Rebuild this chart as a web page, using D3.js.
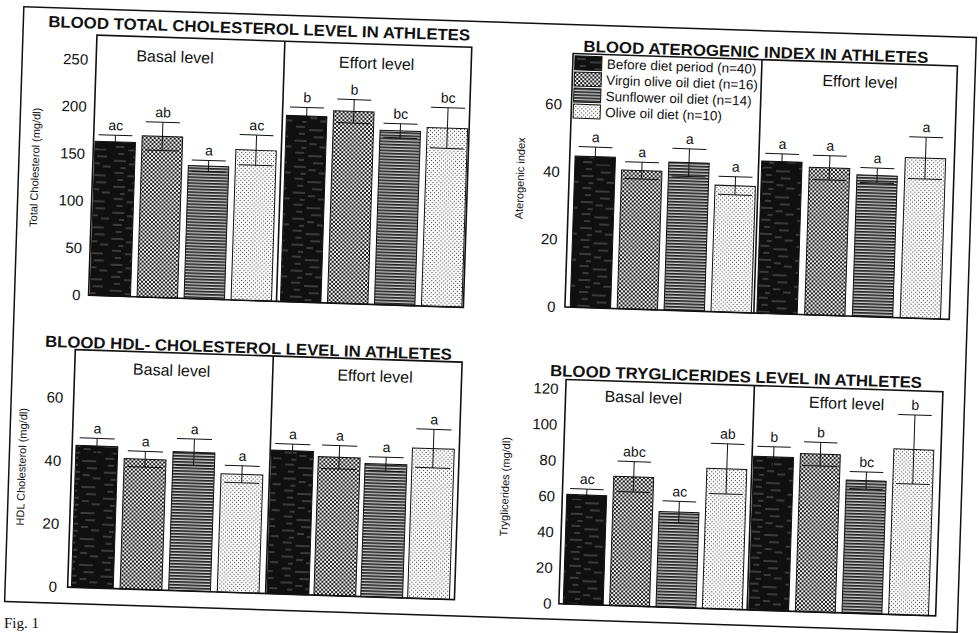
<!DOCTYPE html>
<html>
<head>
<meta charset="utf-8">
<script src="https://cdn.jsdelivr.net/npm/d3@7/dist/d3.min.js"></script>
<style>
  body { margin: 0; background: #fff; }
  svg { display: block; }
</style>
</head>
<body>
<svg id="fig" width="979" height="633"></svg>
<script>
// ---- data ----
const dietGroups = ["Before diet period (n=40)", "Virgin olive oil diet (n=16)", "Sunflower oil diet (n=14)", "Olive oil diet (n=10)"];
const levels = ["Basal level", "Effort level"];

// total cholesterol (mg/dl): 4 basal bars then 4 effort bars
const cholMean = [163.5, 171, 141, 159.5, 197.5, 204, 185, 189.5];
const cholErr = [7, 15, 6, 16, 9, 12.5, 7.5, 21.5];
const cholLetters = ["ac", "ab", "a", "ac", "b", "b", "bc", "bc"];
const cholTicks = [0, 50, 100, 150, 200, 250];

// aterogenic index
const ateroMean = [44.8, 41.1, 43.9, 37.5, 45.1, 43.7, 41.9, 47.5];
const ateroErr = [2.8, 2.5, 4.1, 2.7, 2.3, 3.6, 2.2, 6.2];
const ateroLetters = ["a", "a", "a", "a", "a", "a", "a", "a"];
const ateroTicks = [0, 20, 40, 60];

// HDL cholesterol (mg/dl)
const hdlMean = [45.0, 41.3, 44.0, 37.5, 45.5, 43.9, 42.2, 47.6];
const hdlErr = [2.4, 2.5, 4.2, 2.7, 2.1, 3.7, 2.2, 6.1];
const hdlLetters = ["a", "a", "a", "a", "a", "a", "a", "a"];
const hdlTicks = [0, 20, 40, 60];

// triglycerides (mg/dl)
const trigMean = [61.2, 72.2, 53.3, 78.3, 85.9, 88.2, 74.3, 92.5];
const trigErr = [3.3, 8.5, 6, 14, 5.6, 6.6, 4.8, 19.3];
const trigLetters = ["ac", "abc", "ac", "ab", "b", "b", "bc", "b"];
const trigTicks = [0, 20, 40, 60, 80, 100, 120];

// ---- drawing ----
const FONT = "'Liberation Sans', Arial, Helvetica, sans-serif";
const svg = d3.select("#fig");
const defs = svg.append("defs");

// fill patterns, one per diet group
function pattern(id, w, h, build) {
  const p = defs.append("pattern").attr("id", id).attr("patternUnits", "userSpaceOnUse")
    .attr("width", w).attr("height", h);
  build(p);
}
pattern("pat0", 36, 26, p => {
  p.append("rect").attr("width", 36).attr("height", 26).attr("fill", "#101010");
  p.append("path").attr("d", "M2,3h9M15,6h14M5,10h6M20,13h10M1,17h12M16,20h7M26,23h8M8,24h5")
    .attr("stroke", "#8c8c8c").attr("stroke-width", 0.7);
});
pattern("pat1", 4, 4, p => {
  p.append("rect").attr("width", 4).attr("height", 4).attr("fill", "#f4f4f4");
  p.append("rect").attr("width", 2).attr("height", 2).attr("fill", "#1e1e1e");
  p.append("rect").attr("x", 2).attr("y", 2).attr("width", 2).attr("height", 2).attr("fill", "#1e1e1e");
});
pattern("pat2", 4, 3, p => {
  p.append("rect").attr("width", 4).attr("height", 3).attr("fill", "#cfcfcf");
  p.append("rect").attr("width", 4).attr("height", 1.7).attr("fill", "#222");
});
pattern("pat3", 4, 4, p => {
  p.append("rect").attr("width", 4).attr("height", 4).attr("fill", "#fbfbfb");
  p.append("rect").attr("width", 1).attr("height", 1).attr("fill", "#3a3a3a");
  p.append("rect").attr("x", 2).attr("y", 2).attr("width", 1).attr("height", 1).attr("fill", "#3a3a3a");
});

// the whole sheet sits slightly tilted
const root = svg.append("g").attr("transform", "rotate(1.85,490,319)");

root.append("rect").attr("x", 14).attr("y", 22).attr("width", 953).attr("height", 595)
  .attr("fill", "none").attr("stroke", "#111").attr("stroke-width", 1.5);

function drawPanel(cfg, means, errs, letters, ticks) {
  const g = root.append("g");
  const y = d3.scaleLinear().domain([0, ticks[ticks.length - 1]]).range([cfg.y0, cfg.yMax]);
  const xs = [cfg.s1, cfg.s2].map(r => d3.scaleBand().domain(d3.range(4)).range(r).paddingInner(0.14));
  const bw = xs[0].bandwidth();
  const rows = means.map((m, i) => ({ m, e: errs[i], lab: letters[i], grp: Math.floor(i / 4), k: i % 4 }));
  const cx = d => xs[d.grp](d.k) + bw / 2;

  g.selectAll("rect.bar").data(rows).join("rect").attr("class", "bar")
    .attr("x", d => xs[d.grp](d.k)).attr("y", d => y(d.m))
    .attr("width", bw).attr("height", d => y(0) - y(d.m))
    .attr("fill", d => `url(#pat${d.k})`).attr("stroke", "#111").attr("stroke-width", 1);

  const eb = g.selectAll("g.err").data(rows).join("g").attr("class", "err")
    .attr("stroke", "#111").attr("stroke-width", 1);
  eb.append("line").attr("x1", cx).attr("x2", cx).attr("y1", d => y(d.m + d.e)).attr("y2", d => y(d.m - d.e));
  eb.append("line").attr("x1", d => cx(d) - bw * 0.42).attr("x2", d => cx(d) + bw * 0.42)
    .attr("y1", d => y(d.m + d.e)).attr("y2", d => y(d.m + d.e));
  eb.append("line").attr("x1", d => cx(d) - bw * 0.42).attr("x2", d => cx(d) + bw * 0.42)
    .attr("y1", d => y(d.m - d.e)).attr("y2", d => y(d.m - d.e));

  g.selectAll("text.sig").data(rows).join("text").attr("class", "sig")
    .attr("x", cx).attr("y", d => y(d.m + d.e) - 5)
    .attr("text-anchor", "middle").attr("font-family", FONT).attr("font-size", 14).attr("fill", "#111")
    .text(d => d.lab);

  // plot frame and basal/effort divider
  g.append("rect").attr("x", cfg.left).attr("y", cfg.top)
    .attr("width", cfg.right - cfg.left).attr("height", y(0) - cfg.top)
    .attr("fill", "none").attr("stroke", "#111").attr("stroke-width", 1.6);
  g.append("line").attr("x1", cfg.div).attr("x2", cfg.div).attr("y1", cfg.top).attr("y2", y(0))
    .attr("stroke", "#111").attr("stroke-width", 1.6);

  // y axis labels
  g.append("g").attr("transform", `translate(${cfg.left},0)`)
    .call(d3.axisLeft(y).tickValues(ticks).tickSize(0).tickPadding(cfg.left - cfg.tickX))
    .call(a => a.select(".domain").remove())
    .selectAll("text").attr("font-family", FONT).attr("font-size", 15).attr("fill", "#111");

  g.append("text").attr("transform", `translate(${cfg.yTitle[0]},${cfg.yTitle[1]}) rotate(-90)`)
    .attr("text-anchor", "middle").attr("dy", "0.35em")
    .attr("font-family", FONT).attr("font-size", 11).attr("fill", "#111").text(cfg.yLabel);

  g.append("text").attr("x", cfg.title[0]).attr("y", cfg.title[1])
    .attr("textLength", cfg.title[2]).attr("lengthAdjust", "spacingAndGlyphs")
    .attr("font-family", FONT).attr("font-weight", "bold").attr("font-size", 16).attr("fill", "#111")
    .text(cfg.titleText);

  if (cfg.basal) {
    g.append("text").attr("x", cfg.basal[0]).attr("y", cfg.basal[1]).attr("text-anchor", "middle")
      .attr("font-family", FONT).attr("font-size", 16).attr("fill", "#111").text(levels[0]);
  }
  g.append("text").attr("x", cfg.effort[0]).attr("y", cfg.effort[1]).attr("text-anchor", "middle")
    .attr("font-family", FONT).attr("font-size", 16).attr("fill", "#111").text(levels[1]);
  return g;
}

drawPanel({
  left: 88, right: 463, top: 48, y0: 308.3, yMax: 72.5, div: 276,
  s1: [89.5, 271], s2: [280, 461.5], tickX: 80,
  title: [39, 41.5, 422], titleText: "BLOOD TOTAL CHOLESTEROL LEVEL IN ATHLETES",
  yTitle: [30.3, 182], yLabel: "Total Cholesterol (mg/dl)",
  basal: [166.7, 72.7], effort: [368.5, 72.8]
}, cholMean, cholErr, cholLetters, cholTicks);

const atero = drawPanel({
  left: 564.5, right: 949, top: 51, y0: 304.5, yMax: 102, div: 753.5,
  s1: [569.8, 751], s2: [756.5, 941], tickX: 555,
  title: [574.7, 49, 345], titleText: "BLOOD ATEROGENIC INDEX  IN ATHLETES",
  yTitle: [515.5, 177.4], yLabel: "Aterogenic index",
  basal: null, effort: [852.1, 75.5]
}, ateroMean, ateroErr, ateroLetters, ateroTicks);

// legend in the basal half of the aterogenic panel
const leg = atero.append("g").selectAll("g").data(dietGroups).join("g")
  .attr("transform", (d, i) => `translate(566.5,${53.2 + i * 16.1})`);
leg.append("rect").attr("width", 27).attr("height", 14).attr("fill", (d, i) => `url(#pat${i})`)
  .attr("stroke", "#111").attr("stroke-width", 1);
leg.append("text").attr("x", 32).attr("y", 7).attr("dy", "0.36em")
  .attr("font-family", FONT).attr("font-size", 13.5).attr("fill", "#111").text(d => d);

drawPanel({
  left: 76.5, right: 463.5, top: 363, y0: 600.6, yMax: 411.3, div: 274.6,
  s1: [80.3, 268], s2: [276, 457], tickX: 66,
  title: [46.1, 361.1, 407], titleText: "BLOOD HDL- CHOLESTEROL LEVEL IN ATHLETES",
  yTitle: [26.7, 481.8], yLabel: "HDL Cholesterol (mg/dl)",
  basal: [173.5, 386], effort: [376.9, 385.4]
}, hdlMean, hdlErr, hdlLetters, hdlTicks);

drawPanel({
  left: 568, right: 945, top: 377, y0: 601.4, yMax: 386.5, div: 756.4,
  s1: [572.4, 751.5], s2: [758, 938], tickX: 560.7,
  title: [551.8, 374.1, 372], titleText: "BLOOD TRYGLICERIDES LEVEL IN ATHLETES",
  yTitle: [510.4, 486.1], yLabel: "Tryglicerides (mg/dl)",
  basal: [645.7, 398], effort: [849.2, 397.5]
}, trigMean, trigErr, trigLetters, trigTicks);

// caption below the figure
svg.append("text").attr("x", 4).attr("y", 628)
  .attr("font-family", "'Liberation Serif', 'Times New Roman', serif").attr("font-size", 15).attr("fill", "#111")
  .text("Fig. 1");
</script>
</body>
</html>
